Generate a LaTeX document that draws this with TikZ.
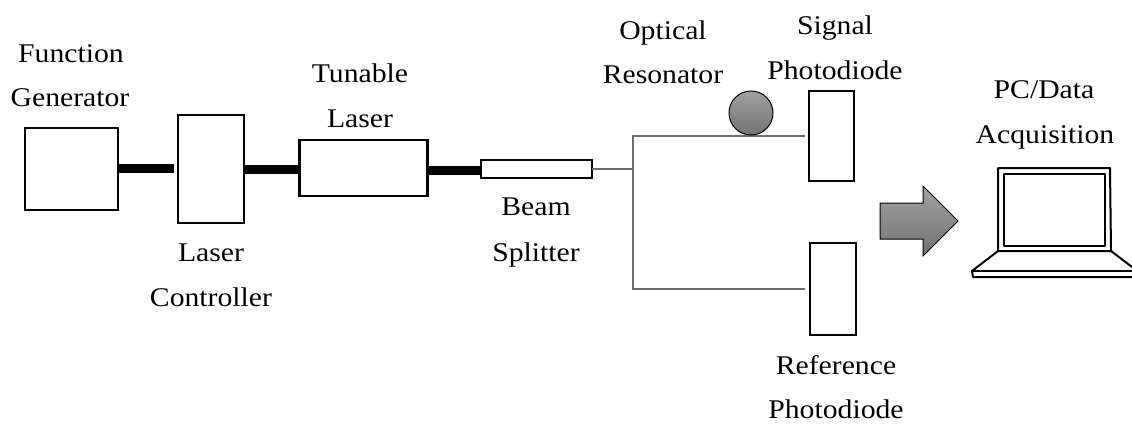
\documentclass[tikz,border=0pt]{standalone}
\usepackage{fontspec}
\setmainfont[FakeStretch=1.1]{Liberation Serif}
\definecolor{gradtop}{gray}{0.63}
\definecolor{gradbot}{gray}{0.45}
\tikzset{
  box/.style={draw=black,line width=2.3pt,fill=white,inner sep=0pt,outer sep=0pt,minimum width=#1},
  lab/.style={font=\fontsize{27}{27}\selectfont,text=black,inner sep=0pt,anchor=base},
  thick link/.style={line width=9pt,black},
  fibre/.style={line width=1.4pt,gray!85!black},
  lapline/.style={line width=2pt,black,line join=round},
}
\begin{document}
\begin{tikzpicture}[x=1pt,y=-1pt]
\useasboundingbox (0,0) rectangle (1132,423);
% boxes
\node[box=93pt,minimum height=82pt] (fg) at (71.5,169) {};
\node[box=66pt,minimum height=108pt] (lc) at (211,169) {};
\node[box=128pt,minimum height=56pt] (tl) at (363.5,168) {};
\node[box=111pt,minimum height=18pt] (bs) at (536.5,169) {};
\node[box=45pt,minimum height=90pt] (sp) at (831.5,136) {};
\node[box=46pt,minimum height=92pt] (rp) at (833,289) {};
% thick connectors
\coordinate (gapend) at (174,168.5);
\draw[thick link] (fg.east |- gapend) -- (gapend);
\draw[thick link] (lc.east |- 0,169.5) -- (tl.west |- 0,169.5);
\draw[thick link] (tl.east |- 0,170) -- (bs.west |- 0,170);
% fibres
\coordinate (junc) at (633,169);
\coordinate (sigc) at (633,136);
\coordinate (refc) at (633,289);
\coordinate (sige) at (805,136);
\coordinate (refe) at (805,289);
\draw[fibre] (bs.east |- junc) -- (junc);
\draw[fibre] (sige) -- (sigc) -- (refc) -- (refe);
% resonator
\node[circle,draw=black,line width=1pt,minimum size=44pt,inner sep=0pt,top color=gradtop,bottom color=gradbot] (res) at (751,113) {};
% arrow
\path[draw=black,line width=1pt,top color=gradtop,bottom color=gradbot] (880,203) -- (923,203) -- (923,186) -- (958,221) -- (923,256) -- (923,239) -- (880,239) -- cycle;
% laptop
\draw[lapline] (998,168) -- (1110,168) -- (1111,251) -- (998,251) -- cycle;
\draw[lapline] (1004,174) -- (1105,174) -- (1105,246) -- (1004,246) -- cycle;
\draw[lapline] (998,251) -- (972,271) -- (973,277) -- (1132,277);
\draw[lapline] (972,271) -- (1132,271);
\draw[lapline] (1111,251) -- (1132,267);
% labels
\node[lab] at (71,62) {Function};
\node[lab] at (70,106) {Generator};
\node[lab] at (360,82) {Tunable};
\node[lab] at (360,127) {Laser};
\node[lab] at (211,261) {Laser};
\node[lab] at (211,306) {Controller};
\node[lab] at (536,215) {Beam};
\node[lab] at (536,261) {Splitter};
\node[lab] at (663,39.5) {Optical};
\node[lab] at (663,83) {Resonator};
\node[lab] at (835,34) {Signal};
\node[lab] at (835,79) {Photodiode};
\node[lab] at (1044,98) {PC/Data};
\node[lab] at (1045,143) {Acquisition};
\node[lab] at (836,374) {Reference};
\node[lab] at (836,418) {Photodiode};
\end{tikzpicture}
\end{document}
